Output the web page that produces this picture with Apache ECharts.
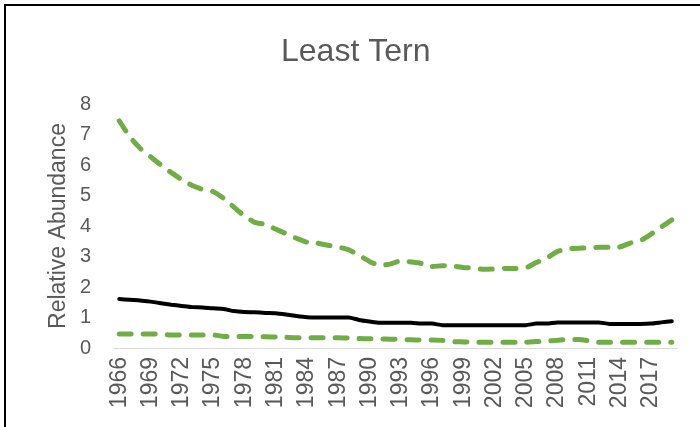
<!DOCTYPE html>
<html><head><meta charset="utf-8">
<script src="https://cdn.jsdelivr.net/npm/echarts@6/dist/echarts.min.js"></script>
<style>html,body{margin:0;padding:0;background:#fff}#c{width:700px;height:427px}</style>
</head><body><div id="c"></div>
<script>
var years = [];
for (var y = 1966; y <= 2019; y++) years.push(String(y));
var upper = [7.45,6.93,6.55,6.27,6.0,5.75,5.52,5.33,5.2,5.13,4.91,4.62,4.33,4.12,4.05,3.9,3.75,3.6,3.47,3.44,3.37,3.31,3.22,3.04,2.84,2.71,2.75,2.86,2.82,2.77,2.67,2.7,2.69,2.64,2.62,2.58,2.59,2.61,2.61,2.63,2.8,2.95,3.16,3.25,3.27,3.29,3.3,3.3,3.31,3.44,3.52,3.73,3.97,4.2];
var mean = [1.61,1.58,1.56,1.52,1.47,1.42,1.38,1.34,1.33,1.30,1.28,1.21,1.18,1.17,1.15,1.14,1.10,1.05,1.01,1.0,1.0,1.0,1.0,0.92,0.87,0.83,0.83,0.83,0.83,0.8,0.8,0.75,0.75,0.75,0.75,0.75,0.75,0.75,0.75,0.75,0.8,0.8,0.84,0.84,0.84,0.84,0.84,0.79,0.79,0.79,0.79,0.8,0.84,0.88];
var lower = [0.46,0.46,0.46,0.46,0.45,0.43,0.43,0.43,0.43,0.43,0.38,0.38,0.38,0.37,0.37,0.36,0.35,0.34,0.34,0.34,0.34,0.34,0.33,0.31,0.30,0.30,0.29,0.28,0.27,0.26,0.26,0.25,0.21,0.2,0.19,0.19,0.19,0.19,0.19,0.19,0.21,0.23,0.25,0.28,0.28,0.24,0.19,0.19,0.19,0.19,0.19,0.19,0.19,0.19];
var yTicks = [0,1,2,3,4,5,6,7,8];
var title = "Least Tern";
var yName = "Relative Abundance";
var txt = "#595959";
var chart = echarts.init(document.getElementById('c'));
chart.setOption({
  animation: false,
  title: {text: title, left: 276, top: 31, textStyle: {fontFamily: 'Liberation Sans', fontSize: 32, fontWeight: 'normal', color: txt}},
  graphic: [{type: 'rect', shape: {x: 5, y: 5, width: 800, height: 800}, style: {fill: 'none', stroke: '#000', lineWidth: 2}}],
  grid: {left: 114, right: 23, top: 104, bottom: 79},
  xAxis: {type: 'category', data: years, boundaryGap: true,
    axisLine: {lineStyle: {color: '#d9d9d9', width: 1}}, axisTick: {show: false},
    axisLabel: {interval: 2, rotate: 90, fontFamily: 'Liberation Sans', fontSize: 23, color: txt, margin: 9}},
  yAxis: {type: 'value', min: yTicks[0], max: yTicks[yTicks.length-1], interval: 1,
    name: yName, nameLocation: 'middle', nameGap: 44, nameMoveOverlap: false,
    nameTextStyle: {fontFamily: 'Liberation Sans', fontSize: 23, color: txt},
    axisLine: {show: false}, axisTick: {show: false}, splitLine: {show: false},
    axisLabel: {fontFamily: 'Liberation Sans', fontSize: 20, color: txt, margin: 34, align: 'left'}},
  series: [
    {type: 'line', data: upper, symbol: 'none', smooth: 0.2, lineStyle: {color: '#70ad47', width: 5, type: [12, 12], cap: 'round', join: 'round'}},
    {type: 'line', data: mean, symbol: 'none', smooth: 0.2, lineStyle: {color: '#000', width: 4, cap: 'round', join: 'round'}},
    {type: 'line', data: lower, symbol: 'none', smooth: 0.2, lineStyle: {color: '#70ad47', width: 5, type: [12, 12], cap: 'round', join: 'round'}}
  ]
});
</script></body></html>
